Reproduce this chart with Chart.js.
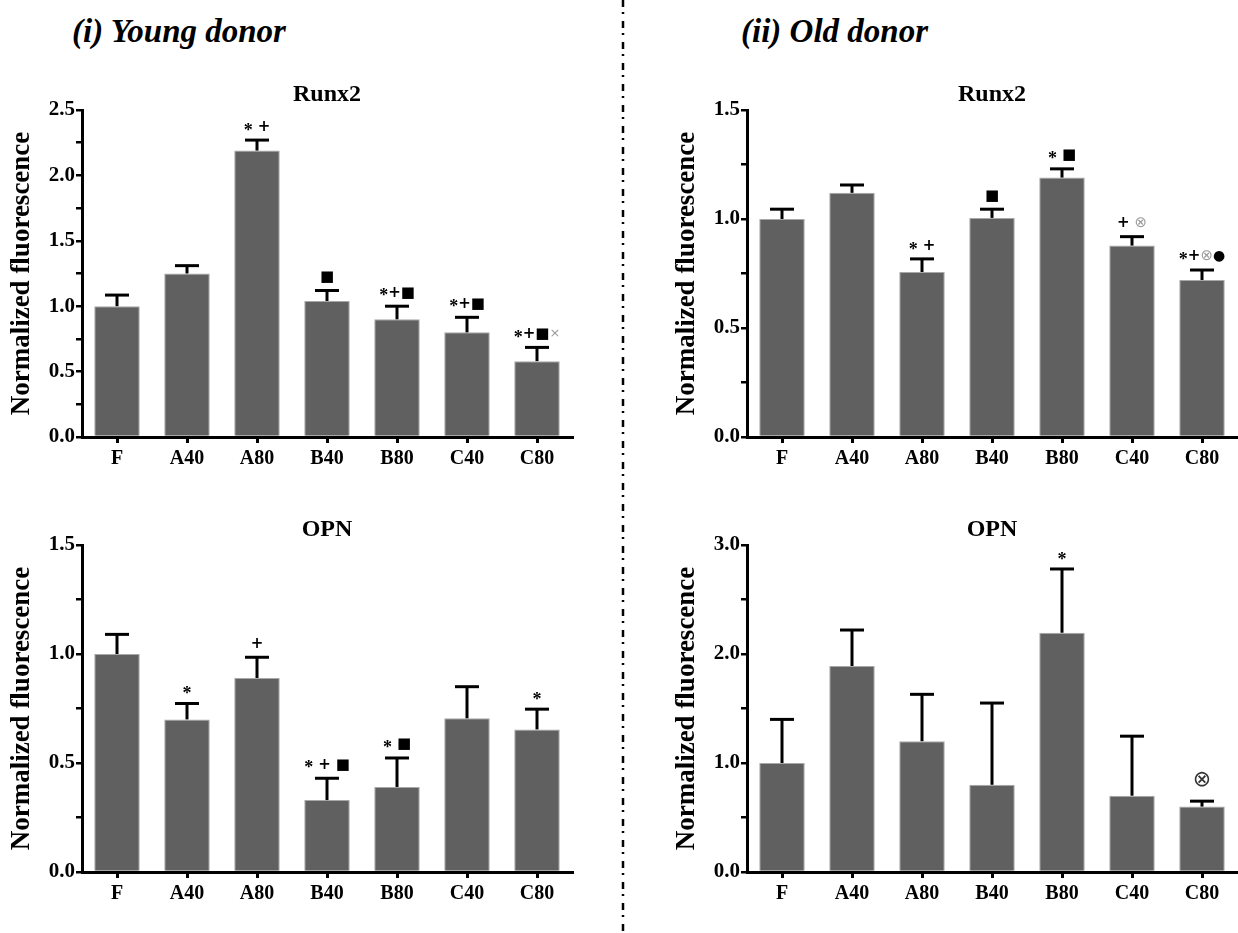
<!DOCTYPE html>
<html><head><meta charset="utf-8">
<script src="https://cdn.jsdelivr.net/npm/chart.js@4.4.1/dist/chart.umd.min.js"></script>
<style>
html,body{margin:0;padding:0;background:#fff;}
body{width:1238px;height:933px;position:relative;overflow:hidden;}
canvas.c{position:absolute;}
.hdr{position:absolute;font-family:"Liberation Serif","Times New Roman",serif;font-weight:bold;font-style:italic;font-size:33px;line-height:33px;white-space:nowrap;color:#000;}
</style></head><body>
<div class="hdr" style="left:72px;top:15px">(i) Young donor</div>
<div class="hdr" style="left:741px;top:15px">(ii) Old donor</div>
<canvas id="sep" width="10" height="933" style="position:absolute;left:618px;top:0"></canvas>
<canvas id="c1" class="c" width="600" height="440" style="left:0;top:60px"></canvas>
<canvas id="c2" class="c" width="573" height="440" style="left:665px;top:60px"></canvas>
<canvas id="c3" class="c" width="600" height="433" style="left:0;top:500px"></canvas>
<canvas id="c4" class="c" width="573" height="433" style="left:665px;top:500px"></canvas>
<script>
// ---------- data ----------
const categories = ['F','A40','A80','B40','B80','C40','C80'];

const youngRunx2Mean = [1.00, 1.25, 2.19, 1.04, 0.90, 0.80, 0.58];
const youngRunx2Err  = [0.085, 0.06, 0.08, 0.08, 0.10, 0.115, 0.105];
const youngRunx2Sig  = ['', '', '* +', '■', '*+■', '*+■', '*+■×'];
const youngRunx2Ticks = ['0.0','0.5','1.0','1.5','2.0','2.5'];

const oldRunx2Mean = [1.00, 1.12, 0.757, 1.005, 1.19, 0.878, 0.72];
const oldRunx2Err  = [0.045, 0.036, 0.06, 0.04, 0.04, 0.041, 0.046];
const oldRunx2Sig  = ['', '', '* +', '■', '* ■', '+ ⊗', '*+⊗●'];
const oldRunx2Ticks = ['0.0','0.5','1.0','1.5'];

const youngOPNMean = [1.00, 0.70, 0.89, 0.33, 0.39, 0.705, 0.654];
const youngOPNErr  = [0.09, 0.073, 0.095, 0.10, 0.133, 0.145, 0.093];
const youngOPNSig  = ['', '*', '+', '* + ■', '* ■', '', '*'];
const youngOPNTicks = ['0.0','0.5','1.0','1.5'];

const oldOPNMean = [1.00, 1.89, 1.20, 0.80, 2.195, 0.70, 0.60];
const oldOPNErr  = [0.40, 0.33, 0.43, 0.75, 0.585, 0.546, 0.05];
const oldOPNSig  = ['', '', '', '', '*', '', '⊗'];
const oldOPNTicks = ['0.0','1.0','2.0','3.0'];

// ---------- separator ----------
(function(){
  const c = document.getElementById('sep').getContext('2d');
  c.strokeStyle = '#000'; c.lineWidth = 2.5;
  c.setLineDash([7,5,2,7]);
  c.beginPath(); c.moveTo(5,0); c.lineTo(5,933); c.stroke();
})();

// ---------- plugin: error bars, significance marks, panel title ----------
const FAM = '"Liberation Serif","Times New Roman",serif';
function symStyle(ch, big){
  switch(ch){
    case '*': return {font:'bold 18px '+FAM, color:'#000', dy:4, h:10};
    case '+': return {font:'bold 15px "DejaVu Sans"', color:'#000', dy:0, h:10};
    case '■': return {font:'15px "DejaVu Sans"', color:'#000', dy:0, h:11};
    case '×': return {font:'13px "DejaVu Sans"', color:'#9a9a9a', dy:0, h:10};
    case '⊗': return big ? {font:'22px "DejaVu Sans"', color:'#333', dy:0, h:26}
                         : {font:'15px "DejaVu Sans"', color:'#9a9a9a', dy:0, h:12};
    case '●': return {font:'14px "DejaVu Sans"', color:'#000', dy:0, h:11};
    default: return null;
  }
}
const errAnn = {
  id:'errAnn',
  afterDatasetsDraw(chart, args, opts){
    const ctx = chart.ctx, ys = chart.scales.y, ca = chart.chartArea;
    const meta = chart.getDatasetMeta(0), ds = chart.data.datasets[0];
    ctx.save();
    meta.data.forEach((bar, i) => {
      const yTop = ys.getPixelForValue(ds.data[i] + opts.errors[i]);
      const x = bar.x;
      ctx.strokeStyle = '#000'; ctx.lineWidth = 3; ctx.lineCap = 'butt';
      ctx.beginPath(); ctx.moveTo(x, bar.y); ctx.lineTo(x, yTop); ctx.stroke();
      ctx.beginPath(); ctx.moveTo(x-12, yTop); ctx.lineTo(x+12, yTop); ctx.stroke();
      const s = opts.marks[i];
      if (!s) return;
      const toks = [...s];
      let total = 0, hmax = 0;
      const items = toks.map(ch => {
        if (ch === ' ') { total += 5; return {sp:true, w:5}; }
        const st = symStyle(ch, opts.big);
        ctx.font = st.font;
        const w = ctx.measureText(ch).width;
        total += w; hmax = Math.max(hmax, st.h);
        return {ch, st, w};
      });
      const cy = yTop - 8 - hmax/2;
      let cx = x - total/2;
      ctx.textAlign = 'left'; ctx.textBaseline = 'middle';
      items.forEach(it => {
        if (!it.sp) {
          ctx.font = it.st.font; ctx.fillStyle = it.st.color;
          ctx.fillText(it.ch, cx, cy + it.st.dy);
        }
        cx += it.w;
      });
    });
    ctx.font = 'bold 24px ' + FAM;
    ctx.fillStyle = '#000'; ctx.textAlign = 'center'; ctx.textBaseline = 'middle';
    ctx.fillText(opts.title, (ca.left + ca.right)/2, ca.top - 15);
    ctx.restore();
  }
};

function makeChart(id, means, errs, marks, tickLabels, yMax, yStep, title, pad, xH, big){
  new Chart(document.getElementById(id), {
    type:'bar',
    data:{ labels: categories,
      datasets:[{ data: means, backgroundColor:'#606060', borderColor:'#a8a8a8', borderWidth:1,
                  categoryPercentage:1.0, barPercentage:0.65 }] },
    options:{
      responsive:false, animation:false,
      layout:{ padding: pad },
      plugins:{ legend:{display:false}, tooltip:{enabled:false},
        errAnn:{ errors: errs, marks: marks, title: title, big: big } },
      scales:{
        x:{ type:'category', offset:true, z:1,
            grid:{ display:true, drawOnChartArea:false, drawTicks:true, tickLength:6, offset:false, color:'#000', lineWidth:3 },
            border:{ display:true, color:'#000', width:3 },
            ticks:{ color:'#000', font:{ family:FAM, weight:'bold', size:20 }, padding:4, maxRotation:0, autoSkip:false },
            afterFit(s){ s.height = xH; } },
        y:{ min:0, max:yMax, z:1,
            ticks:{ stepSize:yStep, autoSkip:false, color:'#000', font:{ family:FAM, weight:'bold', size:21 }, padding:1,
                    callback(v){ const l = Number(v).toFixed(1); return tickLabels.includes(l) ? l : ''; } },
            grid:{ display:true, drawOnChartArea:false, drawTicks:true, tickLength:6, color:'#000', lineWidth:2.5 },
            border:{ display:true, color:'#000', width:3 },
            title:{ display:true, text:'Normalized fluorescence', color:'#000',
                    font:{ family:FAM, weight:'bold', size:27, lineHeight:1.2 }, padding:{top:6,bottom:0} },
            afterFit(s){ s.width = 82; } }
      }
    },
    plugins:[errAnn]
  });
}

makeChart('c1', youngRunx2Mean, youngRunx2Err, youngRunx2Sig, youngRunx2Ticks, 2.5, 0.25, 'Runx2',
          {top:50, right:28, bottom:0, left:0}, 63, false);
makeChart('c2', oldRunx2Mean, oldRunx2Err, oldRunx2Sig, oldRunx2Ticks, 1.5, 0.25, 'Runx2',
          {top:50, right:1, bottom:0, left:0}, 63, false);
makeChart('c3', youngOPNMean, youngOPNErr, youngOPNSig, youngOPNTicks, 1.5, 0.25, 'OPN',
          {top:45, right:28, bottom:0, left:0}, 61, false);
makeChart('c4', oldOPNMean, oldOPNErr, oldOPNSig, oldOPNTicks, 3.0, 0.5, 'OPN',
          {top:45, right:1, bottom:0, left:0}, 61, true);
</script>
</body></html>
